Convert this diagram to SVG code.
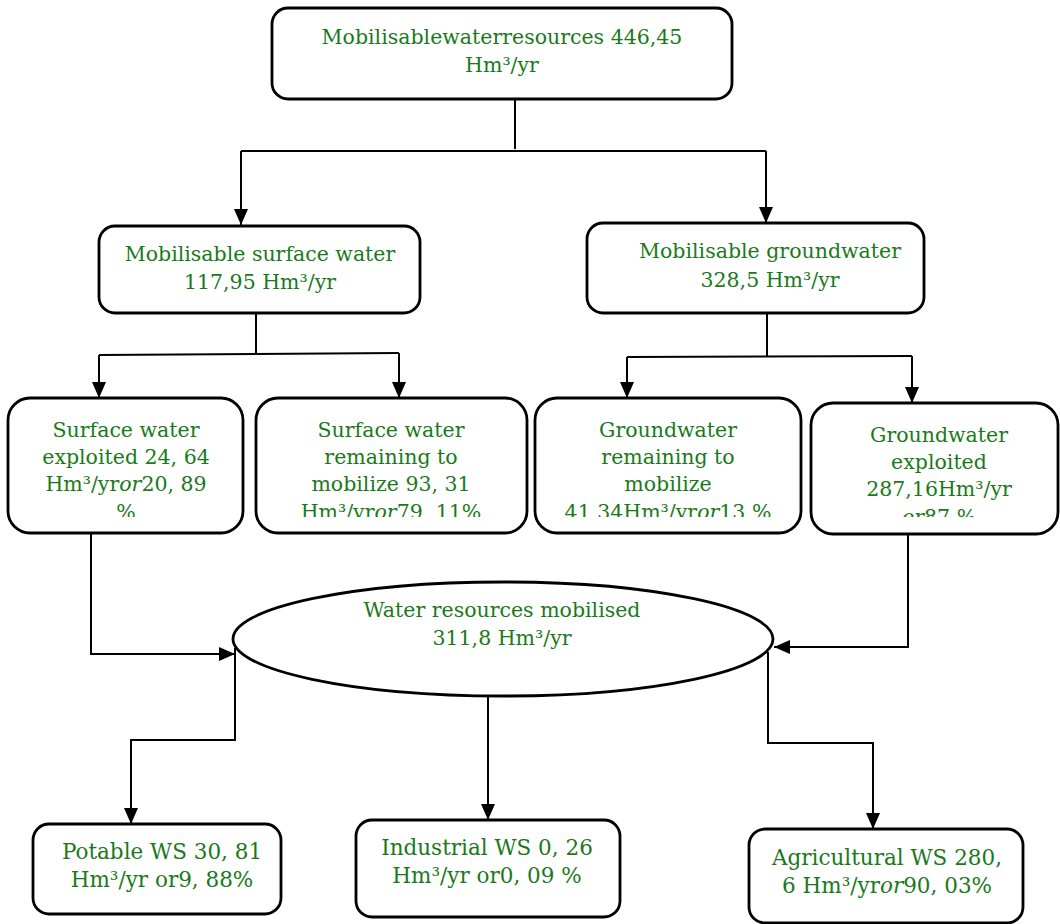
<svg xmlns="http://www.w3.org/2000/svg" width="1060" height="924" viewBox="0 0 1060 924">
<style>
.box{fill:#fff;stroke:#000;stroke-width:2.8}
.t{font-family:"DejaVu Serif","Liberation Serif",serif;font-size:20.5px;fill:#1a7a1a;text-anchor:middle}
.b{font-size:21.5px}
.i{font-style:italic}
.c{fill:none;stroke:#000;stroke-width:2}
</style>
<defs>
<marker id="ah" markerUnits="userSpaceOnUse" markerWidth="16" markerHeight="16" viewBox="0 0 16 16" refX="16" refY="8" orient="auto">
<path d="M0,1 L16,8 L0,15 Z" fill="#000"/>
</marker>
<clipPath id="clip3"><rect x="0" y="380" width="1060" height="137"/></clipPath>
</defs>
<rect width="1060" height="924" fill="#fff"/>
<g id="connectors">
<path class="c" d="M515,99 V149"/>
<path class="c" d="M241,151 H766"/>
<path class="c" d="M241,151 V225" marker-end="url(#ah)"/>
<path class="c" d="M766,151 V223" marker-end="url(#ah)"/>
<path class="c" d="M256,313 V354"/>
<path class="c" d="M99,355 L399,353"/>
<path class="c" d="M99,355 V398" marker-end="url(#ah)"/>
<path class="c" d="M399,353 V398" marker-end="url(#ah)"/>
<path class="c" d="M767,313 V356"/>
<path class="c" d="M627,357 L912,356"/>
<path class="c" d="M627,357 V398" marker-end="url(#ah)"/>
<path class="c" d="M912,356 V403" marker-end="url(#ah)"/>
<path class="c" d="M91,533 V654 H235" marker-end="url(#ah)"/>
<path class="c" d="M908,534 V647 H774" marker-end="url(#ah)"/>
<path class="c" d="M235,648 V740 H131 V824" marker-end="url(#ah)"/>
<path class="c" d="M488,695 V820" marker-end="url(#ah)"/>
<path class="c" d="M768,652 V743 H873 V829" marker-end="url(#ah)"/>
</g>
<g id="n-top">
<rect class="box" x="272" y="8" width="460" height="91" rx="16"/>
<text class="t" x="502" y="44">Mobilisablewaterresources 446,45</text>
<text class="t" x="502" y="72">Hm³/yr</text>
</g>
<g id="n-surface">
<rect class="box" x="99" y="226" width="321" height="87" rx="16"/>
<text class="t" x="260" y="261">Mobilisable surface water</text>
<text class="t" x="260" y="289">117,95 Hm³/yr</text>
</g>
<g id="n-ground">
<rect class="box" x="587" y="223" width="337" height="90" rx="16"/>
<text class="t" x="770" y="258">Mobilisable groundwater</text>
<text class="t" x="770" y="287">328,5 Hm³/yr</text>
</g>
<g id="n-sw-exploited">
<rect class="box" x="8" y="398" width="235" height="135" rx="22"/>
<g clip-path="url(#clip3)">
<text class="t" x="126" y="437">Surface water</text>
<text class="t" x="126" y="464">exploited 24, 64</text>
<text class="t" x="126" y="491">Hm³/yr<tspan class="i">or</tspan>20, 89</text>
<text class="t" x="126" y="519">%</text>
</g>
</g>
<g id="n-sw-remaining">
<rect class="box" x="256" y="398" width="271" height="135" rx="22"/>
<g clip-path="url(#clip3)">
<text class="t" x="391" y="437">Surface water</text>
<text class="t" x="391" y="464">remaining to</text>
<text class="t" x="391" y="491">mobilize 93, 31</text>
<text class="t" x="391" y="519">Hm³/yr<tspan class="i">or</tspan>79, 11%</text>
</g>
</g>
<g id="n-gw-remaining">
<rect class="box" x="535" y="398" width="266" height="135" rx="22"/>
<g clip-path="url(#clip3)">
<text class="t" x="668" y="437">Groundwater</text>
<text class="t" x="668" y="464">remaining to</text>
<text class="t" x="668" y="491">mobilize</text>
<text class="t" x="668" y="519">41,34Hm³/yr<tspan class="i">or</tspan>13 %</text>
</g>
</g>
<g id="n-gw-exploited">
<rect class="box" x="811" y="403" width="247" height="131" rx="22"/>
<g clip-path="url(#clip3)">
<text class="t" x="939" y="442">Groundwater</text>
<text class="t" x="939" y="469">exploited</text>
<text class="t" x="939" y="496">287,16Hm³/yr</text>
<text class="t" x="939" y="524"><tspan class="i">or</tspan>87 %</text>
</g>
</g>
<g id="n-mobilised">
<ellipse class="box" cx="503" cy="639" rx="270" ry="57"/>
<text class="t" x="502" y="617">Water resources mobilised</text>
<text class="t" x="502" y="645">311,8 Hm³/yr</text>
</g>
<g id="n-potable">
<rect class="box" x="33" y="824" width="248" height="90" rx="16"/>
<text class="t b" x="162" y="859">Potable WS 30, 81</text>
<text class="t b" x="162" y="887">Hm³/yr or9, 88%</text>
</g>
<g id="n-industrial">
<rect class="box" x="356" y="820" width="264" height="97" rx="16"/>
<text class="t b" x="487" y="855">Industrial WS 0, 26</text>
<text class="t b" x="487" y="883">Hm³/yr or0, 09 %</text>
</g>
<g id="n-agricultural">
<rect class="box" x="749" y="829" width="274" height="94" rx="16"/>
<text class="t b" x="887" y="865">Agricultural WS 280,</text>
<text class="t b" x="887" y="893">6 Hm³/yr<tspan class="i">or</tspan>90, 03%</text>
</g>
</svg>
